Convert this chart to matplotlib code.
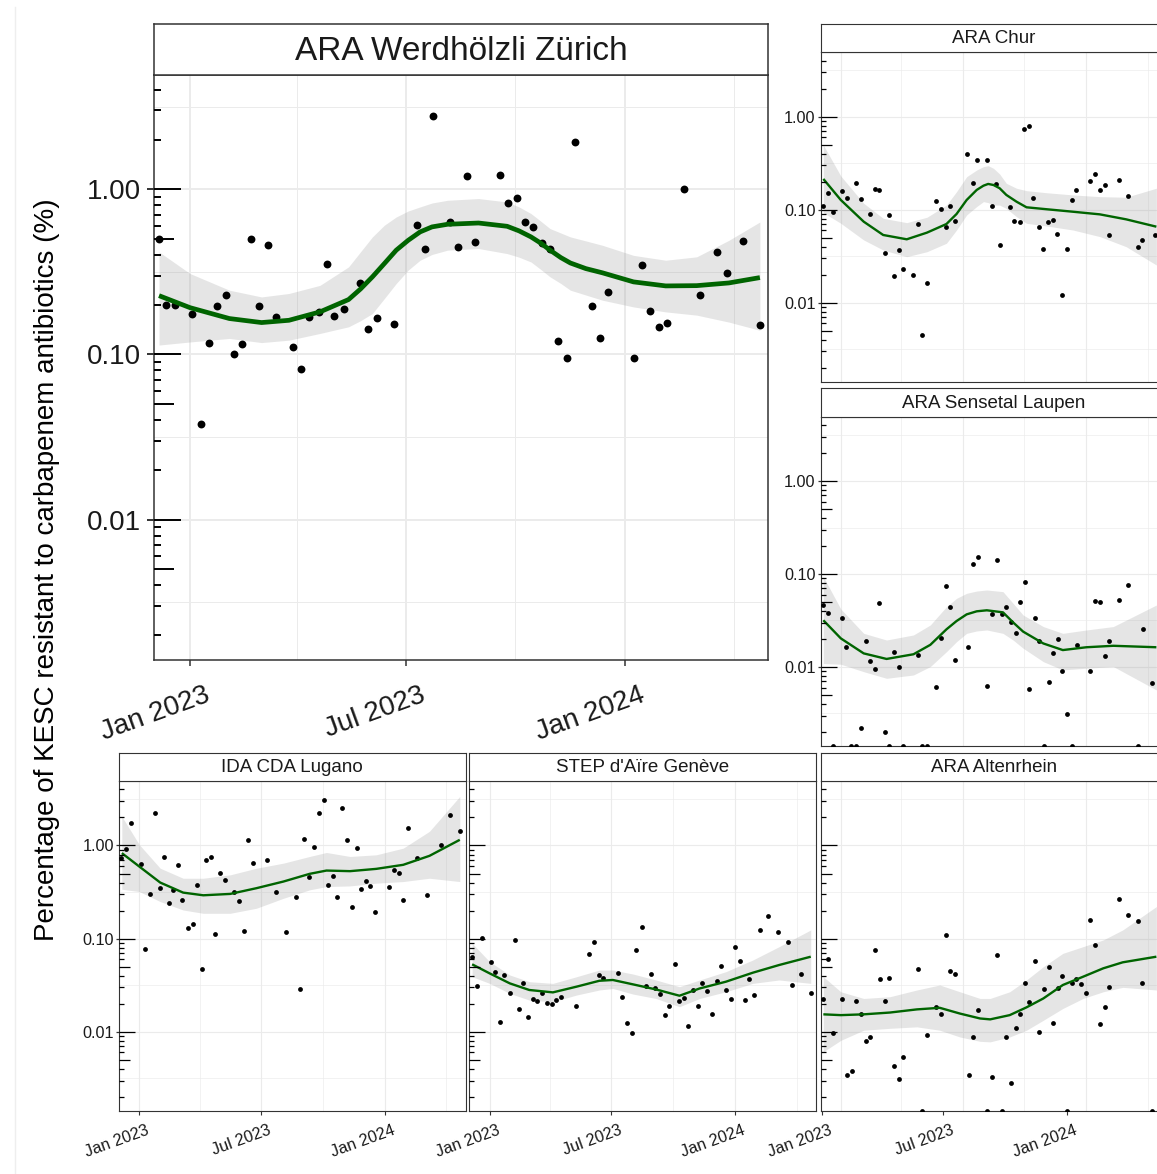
import numpy as np
import matplotlib
matplotlib.use("Agg")
import matplotlib.pyplot as plt
import matplotlib.dates as mdates
from matplotlib.lines import Line2D
from matplotlib.transforms import ScaledTranslation

plt.rcParams['font.family'] = ['Liberation Sans', 'DejaVu Sans']

# sampling day (days since 2023-01-01) and share of KESC resistant to carbapenems (%)
# a value of 0 is a sample without resistant isolates (drawn on the lower panel edge)
zurich_day = [-26, -20, -13, 2, 9, 16, 23, 30, 37, 44, 51, 58, 65, 72, 86, 93, 100, 108,
              115, 121, 129, 143, 149, 157, 171, 190, 197, 204, 218, 225, 232, 239, 260,
              267, 274, 281, 288, 295, 302, 309, 316, 323, 337, 344, 351, 372, 379, 386,
              393, 400, 414, 428, 442, 450, 464, 478]
zurich_pct = [0.50, 0.20, 0.20, 0.175, 0.038, 0.117, 0.196, 0.23, 0.10, 0.116, 0.50, 0.197,
              0.46, 0.169, 0.111, 0.082, 0.169, 0.18, 0.355, 0.17, 0.189, 0.27, 0.142, 0.167,
              0.153, 0.605, 0.438, 2.77, 0.63, 0.446, 1.2, 0.478, 1.22, 0.83, 0.89, 0.63,
              0.594, 0.475, 0.434, 0.12, 0.095, 1.94, 0.196, 0.125, 0.239, 0.095, 0.35,
              0.183, 0.147, 0.154, 1.0, 0.23, 0.42, 0.31, 0.485, 0.15]
zurich_fit_day = [-26, 0, 33, 60, 83, 109, 133, 143, 153, 163, 173, 183, 193, 203, 216, 242,
                  266, 276, 286, 294, 302, 311, 319, 332, 346, 372, 399, 425, 452, 478]
zurich_fit = [0.227, 0.192, 0.165, 0.156, 0.161, 0.181, 0.215, 0.249, 0.295, 0.355, 0.428,
              0.491, 0.552, 0.592, 0.614, 0.625, 0.597, 0.560, 0.515, 0.473, 0.428, 0.386,
              0.358, 0.331, 0.312, 0.275, 0.26, 0.261, 0.271, 0.292]
zurich_hi = [0.418, 0.309, 0.245, 0.223, 0.234, 0.262, 0.339, 0.418, 0.515, 0.606, 0.68,
             0.739, 0.782, 0.826, 0.858, 0.879, 0.838, 0.782, 0.713, 0.643, 0.578, 0.544,
             0.515, 0.487, 0.458, 0.398, 0.372, 0.39, 0.491, 0.634]
zurich_lo = [0.114, 0.119, 0.125, 0.118, 0.122, 0.134, 0.147, 0.16, 0.177, 0.218, 0.269,
             0.324, 0.372, 0.403, 0.428, 0.438, 0.408, 0.388, 0.363, 0.328, 0.295, 0.269,
             0.245, 0.229, 0.213, 0.194, 0.181, 0.173, 0.157, 0.14]

chur_day = [-27, -19, -12, 2, 9, 23, 30, 44, 51, 57, 65, 72, 79, 86, 93, 107, 114, 121, 128,
            142, 149, 156, 163, 170, 188, 196, 203, 217, 224, 231, 237, 251, 258, 266, 273,
            279, 286, 294, 301, 308, 315, 322, 329, 336, 343, 350, 371, 378, 385, 392, 399,
            413, 427, 441, 448, 467]
chur_pct = [0.110, 0.150, 0.094, 0.157, 0.132, 0.195, 0.129, 0.0906, 0.166, 0.163, 0.034,
            0.0877, 0.0194, 0.0372, 0.0232, 0.0197, 0.070, 0.00449, 0.0161, 0.125, 0.1016,
            0.0651, 0.1095, 0.0755, 0.40, 0.195, 0.339, 0.345, 0.110, 0.189, 0.0413, 0.1077,
            0.075, 0.073, 0.743, 0.80, 0.132, 0.0656, 0.0375, 0.073, 0.0774, 0.0552, 0.0122,
            0.0375, 0.128, 0.163, 0.205, 0.24, 0.163, 0.184, 0.053, 0.21, 0.1415, 0.0394,
            0.0472, 0.0538]
chur_fit_day = [-26, 0, 34, 63, 98, 128, 157, 172, 187, 202, 212, 219, 227, 236, 246, 261,
                276, 306, 345, 385, 424, 469]
chur_fit = [0.214, 0.127, 0.0743, 0.0534, 0.048, 0.0566, 0.0701, 0.0898, 0.127, 0.163,
            0.181, 0.189, 0.184, 0.17, 0.144, 0.122, 0.106, 0.101, 0.095, 0.089, 0.0787,
            0.0656]
chur_hi = [0.496, 0.23, 0.117, 0.0807, 0.0725, 0.0828, 0.112, 0.156, 0.226, 0.267, 0.29,
           0.297, 0.278, 0.242, 0.192, 0.17, 0.16, 0.152, 0.144, 0.138, 0.136, 0.17]
chur_lo = [0.0929, 0.0713, 0.0472, 0.0368, 0.0312, 0.0353, 0.0435, 0.0604, 0.0877, 0.108,
           0.122, 0.119, 0.112, 0.112, 0.103, 0.0841, 0.0713, 0.0667, 0.0604, 0.0513, 0.04,
           0.0254]

laupen_day = [-27, -19, -12, 2, 8, 15, 23, 30, 37, 44, 51, 57, 65, 72, 79, 86, 93, 114, 121,
              128, 142, 149, 156, 163, 170, 189, 196, 204, 218, 225, 232, 239, 246, 253, 260,
              267, 274, 280, 288, 295, 302, 309, 316, 323, 329, 336, 344, 351, 371, 378, 385,
              392, 399, 414, 427, 441, 449, 462]
laupen_pct = [0.0464, 0.0381, 0, 0.0334, 0.0166, 0, 0, 0.00219, 0.0189, 0.0115, 0.0095,
              0.0484, 0.002, 0, 0.0144, 0.010, 0, 0.0133, 0, 0, 0.00615, 0.0203, 0.0743,
              0.0438, 0.0119, 0.0166, 0.127, 0.151, 0.00625, 0.0368, 0.1426, 0.0374, 0.0445,
              0.0302, 0.023, 0.0504, 0.082, 0.00585, 0.0339, 0.0192, 0, 0.00695, 0.0142,
              0.020, 0.00914, 0.00313, 0, 0.0171, 0.00914, 0.0513, 0.0504, 0.013, 0.0189,
              0.0525, 0.0755, 0, 0.0258, 0.00673]
laupen_fit_day = [-26, 0, 34, 68, 108, 133, 157, 172, 187, 202, 217, 241, 256, 271, 301, 330,
                  365, 405, 469]
laupen_fit = [0.0318, 0.0203, 0.014, 0.0122, 0.0137, 0.0173, 0.0254, 0.0312, 0.0368, 0.0397,
              0.0407, 0.0387, 0.0302, 0.024, 0.0179, 0.0152, 0.0163, 0.0169, 0.0163]
laupen_hi = [0.0936, 0.042, 0.023, 0.0195, 0.0221, 0.0283, 0.0445, 0.0547, 0.062, 0.0656,
             0.0673, 0.0646, 0.0484, 0.0362, 0.0272, 0.023, 0.025, 0.0272, 0.0464]
laupen_lo = [0.0109, 0.0107, 0.0089, 0.00755, 0.0082, 0.0101, 0.0146, 0.0187, 0.023, 0.0244,
             0.025, 0.023, 0.0195, 0.0159, 0.0114, 0.0093, 0.0097, 0.0101, 0.00566]

lugano_day = [-27, -20, -12, 2, 9, 16, 23, 30, 37, 44, 50, 57, 64, 72, 79, 86, 93, 99, 106,
              113, 120, 127, 141, 148, 155, 162, 169, 189, 203, 218, 232, 238, 245, 252, 259,
              267, 274, 280, 287, 294, 301, 309, 316, 323, 329, 336, 343, 350, 371, 378, 385,
              392, 399, 413, 427, 448, 462, 476]
lugano_pct = [0.731, 0.914, 1.74, 0.63, 0.078, 0.302, 2.25, 0.351, 0.75, 0.242, 0.334, 0.615,
              0.258, 0.129, 0.145, 0.381, 0.0476, 0.701, 0.743, 0.111, 0.508, 0.424, 0.315,
              0.254, 0.121, 1.15, 0.656, 0.701, 0.318, 0.119, 0.283, 0.0285, 1.18, 0.464,
              0.952, 2.25, 3.1, 0.381, 0.468, 0.283, 2.52, 1.14, 0.217, 0.928, 0.342, 0.413,
              0.368, 0.194, 0.362, 0.548, 0.508, 0.258, 1.55, 0.731, 0.297, 1.01, 2.12, 1.44]
lugano_fit_day = [-26, 0, 31, 65, 95, 135, 174, 214, 253, 278, 313, 352, 392, 431, 476]
lugano_fit = [0.828, 0.594, 0.40, 0.312, 0.292, 0.302, 0.348, 0.41, 0.496, 0.538, 0.53, 0.561,
              0.62, 0.774, 1.15]
lugano_hi = [2.05, 1.02, 0.57, 0.445, 0.445, 0.484, 0.57, 0.646, 0.762, 0.841, 0.762, 0.794,
             0.936, 1.42, 3.36]
lugano_lo = [0.339, 0.32, 0.25, 0.203, 0.187, 0.187, 0.212, 0.271, 0.334, 0.362, 0.368, 0.394,
             0.41, 0.445, 0.41]

geneve_day = [-26, -19, -12, 2, 8, 15, 22, 30, 37, 44, 50, 57, 64, 71, 78, 85, 93, 99, 106,
              128, 148, 155, 162, 169, 190, 197, 204, 211, 218, 226, 232, 239, 246, 253, 260,
              267, 275, 281, 288, 295, 302, 309, 316, 323, 330, 337, 344, 351, 358, 365, 372,
              379, 386, 393, 401, 414, 428, 443, 449, 463, 477]
geneve_pct = [0.0635, 0.0307, 0.101, 0.0566, 0.0442, 0.0126, 0.0407, 0.0258, 0.096, 0.0174,
              0.0337, 0.0143, 0.0225, 0.0216, 0.0258, 0.0203, 0.0198, 0.0219, 0.0238, 0.0187,
              0.069, 0.0914, 0.0407, 0.0374, 0.0424, 0.0236, 0.0123, 0.0096, 0.0755, 0.1346,
              0.0307, 0.0413, 0.0297, 0.0252, 0.0151, 0.0187, 0.0538, 0.0214, 0.0228, 0.0115,
              0.0281, 0.019, 0.0337, 0.0276, 0.0154, 0.0351, 0.0504, 0.0283, 0.0223, 0.0813,
              0.058, 0.0221, 0.0366, 0.0246, 0.124, 0.175, 0.119, 0.0929, 0.0318, 0.042, 0.0261]
geneve_fit_day = [-26, 0, 30, 59, 94, 129, 163, 183, 213, 247, 282, 312, 351, 391, 430, 477]
geneve_fit = [0.053, 0.0424, 0.0331, 0.0281, 0.0265, 0.0305, 0.0353, 0.036, 0.0323, 0.0285,
              0.0244, 0.0292, 0.0345, 0.0431, 0.0521, 0.064]
geneve_hi = [0.0891, 0.0566, 0.0407, 0.0345, 0.0331, 0.039, 0.046, 0.046, 0.0417, 0.036,
             0.0305, 0.036, 0.0442, 0.059, 0.082, 0.124]
geneve_lo = [0.039, 0.0331, 0.0258, 0.0219, 0.021, 0.0248, 0.0281, 0.0292, 0.0254, 0.0228,
             0.0186, 0.0228, 0.0269, 0.0331, 0.036, 0.0331]

altenrhein_day = [-27, -19, -12, 2, 9, 16, 23, 30, 37, 44, 51, 58, 65, 72, 79, 86, 93, 114,
                  121, 128, 141, 149, 156, 163, 170, 190, 197, 204, 218, 225, 232, 239, 246,
                  253, 260, 267, 274, 280, 288, 295, 302, 309, 316, 323, 329, 336, 343, 350,
                  357, 364, 371, 378, 385, 392, 399, 414, 427, 442, 448, 462]
altenrhein_pct = [0.0225, 0.060, 0.0096, 0.0226, 0.00348, 0.00384, 0.0212, 0.0155, 0.00787,
                  0.0089, 0.075, 0.0372, 0.0214, 0.0374, 0.00428, 0.00315, 0.00534, 0.0472, 0,
                  0.00914, 0.0184, 0.0154, 0.1086, 0.0449, 0.0413, 0.00342, 0.0089, 0.0171, 0,
                  0.00331, 0.0667, 0, 0.0089, 0.00285, 0.0109, 0.0155, 0.0334, 0.0208, 0.057,
                  0.00984, 0.0288, 0.0492, 0.0123, 0.0297, 0.040, 0, 0.0334, 0.0368, 0.0323,
                  0.0262, 0.159, 0.0855, 0.0121, 0.0184, 0.0302, 0.267, 0.181, 0.155, 0.0334, 0]
altenrhein_fit_day = [-26, 0, 34, 73, 113, 147, 177, 207, 222, 251, 276, 301, 330, 360, 390,
                      419, 469]
altenrhein_fit = [0.0154, 0.0151, 0.0154, 0.0161, 0.0174, 0.0181, 0.0157, 0.0139, 0.0136,
                  0.0151, 0.0183, 0.0228, 0.0318, 0.039, 0.048, 0.0557, 0.064]
altenrhein_hi = [0.039, 0.0269, 0.0228, 0.0238, 0.0281, 0.0318, 0.0269, 0.0228, 0.0228, 0.0269,
                 0.036, 0.05, 0.0695, 0.082, 0.0968, 0.124, 0.221]
altenrhein_lo = [0.0061, 0.0081, 0.0104, 0.0109, 0.0113, 0.0104, 0.0088, 0.0079, 0.0078, 0.0088,
                 0.0104, 0.0133, 0.0178, 0.0228, 0.0269, 0.03, 0.0281]

month_breaks = ['2023-01-01', '2023-07-01', '2024-01-01']
month_labels = ['Jan 2023', 'Jul 2023', 'Jan 2024']
month_minor = ['2023-04-01', '2023-10-01', '2024-04-01']
y_breaks = [0.01, 0.1, 1.0]
y_labels = ['0.01', '0.10', '1.00']
y_minor = [10 ** -2.5, 10 ** -1.5, 10 ** -0.5, 10 ** 0.5]

W, H = 1157, 1174
fig = plt.figure(figsize=(W / 100, H / 100), dpi=100)

T0 = mdates.date2num(np.datetime64('2023-01-01'))
X_LIM = (T0 - 30.2, T0 + 484.8)
Y_LIM = (10 ** -2.85, 10 ** 0.692)
PX = 0.72  # points per pixel at dpi 100

BIG = dict(title=24, tick=20, dot=32, lw=3.4, gmaj=1.4, gmin=0.7, logt=(27, 20, 7), logw=1.4,
           ytick=7, xtick=6, spine=1.1, xshift=14, xpad=16, ypad=6)
SMALL = dict(title=13.5, tick=11.7, dot=12, lw=1.7, gmaj=0.8, gmin=0.45, logt=(16, 11, 5),
             logw=0.9, ytick=3, xtick=3.5, spine=0.8, xshift=7, xpad=8, ypad=2)
EDGE = '#333333'
GRID = '#ebebeb'


def days(d):
    return T0 + np.asarray(d, dtype=float)


def dates(lst):
    return mdates.date2num(np.array(lst, dtype='datetime64[D]'))


def panel(box, strip_h, title, day, pct, fday, fit, lo, hi, st,
          ylab=True, xlab=True, tick_shift=0.0):
    l, t, r, b = box
    ax = fig.add_axes([l / W, 1 - b / H, (r - l) / W, (b - t) / H])
    sx = fig.add_axes([l / W, 1 - t / H, (r - l) / W, strip_h / H])

    # facet strip
    sx.set_xticks([])
    sx.set_yticks([])
    for s in sx.spines.values():
        s.set_color(EDGE)
        s.set_linewidth(st['spine'])
    sx.text(0.5, 0.47, title, ha='center', va='center', fontsize=st['title'],
            color='#1a1a1a', transform=sx.transAxes)

    ax.set_yscale('log')
    ax.set_xlim(X_LIM)
    ax.set_ylim(Y_LIM)

    # grid
    for v in dates(month_breaks):
        ax.axvline(v, color=GRID, lw=st['gmaj'], zorder=0)
    for v in dates(month_minor):
        ax.axvline(v, color=GRID, lw=st['gmin'], zorder=0)
    for v in y_breaks:
        ax.axhline(v, color=GRID, lw=st['gmaj'], zorder=0)
    for v in y_minor:
        ax.axhline(v, color=GRID, lw=st['gmin'], zorder=0)

    # loess fit with confidence band
    ax.fill_between(days(fday), lo, hi, color='#999999', alpha=0.25, lw=0, zorder=2)
    ax.plot(days(fday), fit, color='#006400', lw=st['lw'], zorder=4,
            solid_capstyle='butt', solid_joinstyle='round')

    # samples, zeros sit on the lower edge
    pct = np.asarray(pct, dtype=float)
    yv = np.where(pct > 0, pct, Y_LIM[0])
    ax.scatter(days(day), yv, s=st['dot'], color='black', linewidths=0, zorder=3)

    for s in ax.spines.values():
        s.set_color(EDGE)
        s.set_linewidth(st['spine'])

    # log ticks inside the panel
    tr = ax.get_yaxis_transform()
    wpx = r - l
    for e in range(-3, 1):
        for m in range(1, 10):
            v = m * 10.0 ** e
            if not (Y_LIM[0] <= v <= Y_LIM[1]):
                continue
            L = st['logt'][0] if m == 1 else st['logt'][1] if m == 5 else st['logt'][2]
            ax.plot([0, L / wpx], [v, v], transform=tr, color='black', lw=st['logw'],
                    solid_capstyle='butt', zorder=5, clip_on=False)

    ax.minorticks_off()
    if ylab:
        ax.set_yticks(y_breaks, y_labels)
        ax.tick_params(axis='y', length=st['ytick'] * PX, width=st['logw'], color=EDGE,
                       pad=st['ypad'] * PX, labelsize=st['tick'], labelcolor='#1a1a1a')
    else:
        ax.set_yticks([])
    ax.minorticks_off()

    if xlab:
        ax.set_xticks(dates(month_breaks) + tick_shift, month_labels, rotation=20,
                      ha='right', va='top', rotation_mode='anchor')
        ax.tick_params(axis='x', length=st['xtick'] * PX, width=st['spine'], color=EDGE,
                       pad=st['xpad'] * PX, labelsize=st['tick'], labelcolor='#1a1a1a')
        off = ScaledTranslation(st['xshift'] / 100, 0, fig.dpi_scale_trans)
        for lab in ax.get_xticklabels():
            lab.set_transform(lab.get_transform() + off)
    else:
        ax.set_xticks([])
    return ax


panel((154, 75, 768, 660), 51, 'ARA Werdhölzli Zürich', zurich_day, zurich_pct,
      zurich_fit_day, zurich_fit, zurich_lo, zurich_hi, BIG)
panel((820.5, 52.3, 1167, 381.7), 28.3, 'ARA Chur', chur_day, chur_pct,
      chur_fit_day, chur_fit, chur_lo, chur_hi, SMALL, xlab=False)
panel((820.5, 416.7, 1167, 746), 28.3, 'ARA Sensetal Laupen', laupen_day, laupen_pct,
      laupen_fit_day, laupen_fit, laupen_lo, laupen_hi, SMALL, xlab=False)
panel((119, 781, 465.7, 1111), 28.3, 'IDA CDA Lugano', lugano_day, lugano_pct,
      lugano_fit_day, lugano_fit, lugano_lo, lugano_hi, SMALL)
panel((469.3, 781, 816, 1111), 28.3, "STEP d'Aïre Genève", geneve_day, geneve_pct,
      geneve_fit_day, geneve_fit, geneve_lo, geneve_hi, SMALL, ylab=False)
panel((820.5, 781, 1167, 1111), 28.3, 'ARA Altenrhein', altenrhein_day, altenrhein_pct,
      altenrhein_fit_day, altenrhein_fit, altenrhein_lo, altenrhein_hi, SMALL,
      ylab=False, tick_shift=-28.5)

fig.text(47 / W, 1 - 570 / H, 'Percentage of KESC resistant to carbapenem antibiotics (%)',
         rotation=90, ha='center', va='center', fontsize=20, color='black')
fig.add_artist(Line2D([15 / W, 15 / W], [0, 1 - 7 / H], color='#eeeeee', lw=1))

fig.savefig('out.png', dpi=100)
